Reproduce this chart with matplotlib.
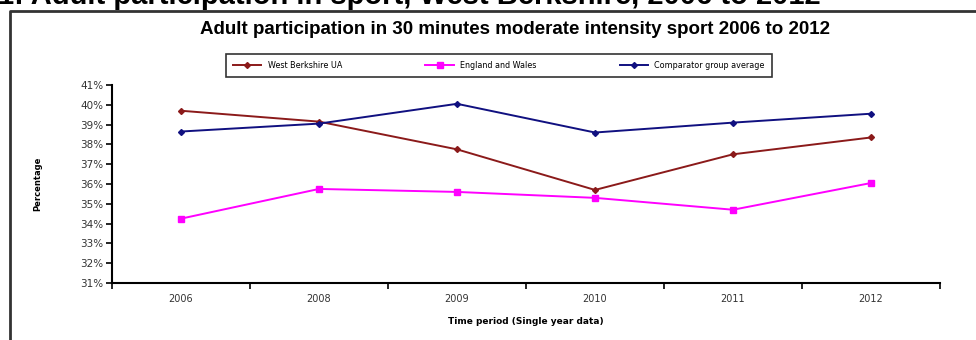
import numpy as np
import matplotlib.pyplot as plt
from matplotlib.lines import Line2D

years = ["2006", "2008", "2009", "2010", "2011", "2012"]
west_berks = [39.7, 39.15, 37.75, 35.7, 37.5, 38.35]
eng_wales = [34.25, 35.75, 35.6, 35.3, 34.7, 36.05]
comparator = [38.65, 39.05, 40.05, 38.6, 39.1, 39.55]
y_ticks = list(range(31, 42))

W, H = 976, 340
fig = plt.figure(figsize=(W / 100, H / 100), dpi=100)

# page heading, cut off at the top of the picture
fig.text(-2 / W, 1 - 3.5 / H, "1: Adult participation in sport, West Berkshire, 2006 to 2012",
         fontsize=21, fontweight="bold", family="Liberation Sans", va="baseline", ha="left")

# outer frame (left and top edges visible)
fig.add_artist(Line2D([10 / W, 10 / W, 1.01], [-0.01, 1 - 10.5 / H, 1 - 10.5 / H],
                      color="#333333", lw=2, transform=fig.transFigure))

ax = fig.add_axes([112 / W, 1 - 283 / H, (940 - 112) / W, (283 - 85) / H])
x = np.arange(len(years))

ax.plot(x, west_berks, color="#8B1A1A", lw=1.4, marker="D", ms=3, label="West Berkshire UA")
ax.plot(x, eng_wales, color="#FF00FF", lw=1.4, marker="s", ms=5, label="England and Wales")
ax.plot(x, comparator, color="#101080", lw=1.4, marker="D", ms=3, label="Comparator group average")

ax.set_xlim(-0.5, len(years) - 0.5)
ax.set_ylim(31, 41)
ax.set_yticks(y_ticks)
ax.set_yticklabels([f"{v}%" for v in y_ticks])
ax.set_xticks(x)
ax.set_xticklabels(years)
ax.set_xticks(np.arange(-0.5, len(years)), minor=True)
ax.tick_params(axis="x", which="major", length=0, pad=8, labelsize=7, labelcolor="#333333")
ax.tick_params(axis="x", which="minor", length=4, width=1.2, direction="out")
ax.tick_params(axis="y", length=4, width=1.2, labelsize=7.5, labelcolor="#333333", pad=2)

for s in ["top", "right"]:
    ax.spines[s].set_visible(False)
for s in ["left", "bottom"]:
    ax.spines[s].set_linewidth(1.5)

ax.set_xlabel("Time period (Single year data)", fontsize=6.5, fontweight="bold", labelpad=9)
ax.set_ylabel("Percentage", fontsize=6, fontweight="bold")
ax.yaxis.set_label_coords(-70 / 828, 0.5)

fig.text(515 / W, 1 - 29 / H, "Adult participation in 30 minutes moderate intensity sport 2006 to 2012",
         fontsize=13.5, fontweight="bold", family="Liberation Sans",
         ha="center", va="center")

leg = ax.legend(loc="center", bbox_to_anchor=(222 / W, 1 - 80 / H, (776 - 222) / W, 29 / H),
                bbox_transform=fig.transFigure, ncol=3, fontsize=5.8, frameon=True,
                fancybox=False, edgecolor="black", handlelength=3.5, columnspacing=6,
                borderpad=0.9, mode="expand")
leg.get_frame().set_linewidth(1.2)

fig.savefig("out.png", dpi=100)
